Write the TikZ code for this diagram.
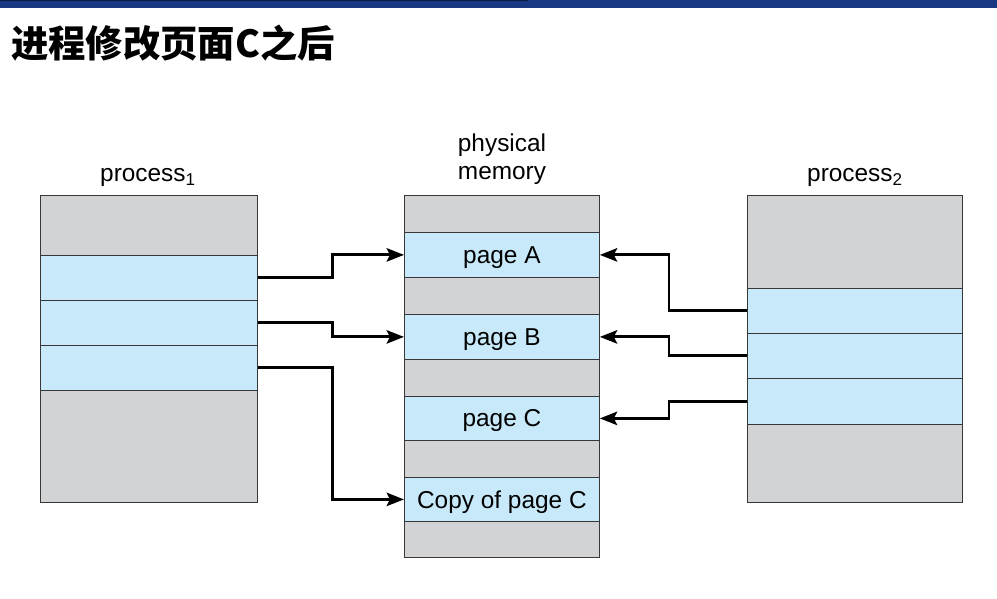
\documentclass[tikz,border=0pt]{standalone}
\usepackage{fontspec}
\setmainfont{Liberation Sans}
\newfontfamily\cjk{Noto Sans CJK SC}
\usetikzlibrary{arrows.meta}

\definecolor{segGray}{RGB}{209,211,212}
\definecolor{segBlue}{RGB}{199,233,249}
\definecolor{segLine}{RGB}{55,55,55}
\definecolor{barBlue}{RGB}{24,56,130}
\definecolor{barDark}{RGB}{14,26,70}

\tikzset{
  seg/.style={draw=segLine, line width=0.6pt, inner sep=0pt, anchor=north west,
    text depth=0pt, font=\fontsize{18.3}{22}\selectfont},
  used/.style={seg, fill=segBlue},
  free/.style={seg, fill=segGray},
  link/.style={line width=2.2pt, line join=miter, -{Stealth[length=13pt,width=10pt,inset=2.5pt]}},
  heading/.style={font=\fontsize{18.3}{20.5}\selectfont, align=center}
}

\begin{document}
\begin{tikzpicture}[x=0.75pt,y=0.75pt,yscale=-1]
\useasboundingbox (0,0) rectangle (997,599);

% top bar
\fill [barBlue] (0,0) rectangle (997,8);
\fill [barDark] (0,0) rectangle (528,1.5);

% title
\node (title) [anchor=west, inner sep=0pt, font=\cjk\bfseries\fontsize{28}{32}\selectfont] at (11,43) {进程修改页面C之后};

% process 1
\node (p1top) [free, minimum width=162.75pt, minimum height=45pt] at (40,195) {};
\node (p1a) [used, minimum width=162.75pt, minimum height=33.75pt] at (40,255) {};
\node (p1b) [used, minimum width=162.75pt, minimum height=33.75pt] at (40,300) {};
\node (p1c) [used, minimum width=162.75pt, minimum height=33.75pt] at (40,345) {};
\node (p1bot) [free, minimum width=162.75pt, minimum height=84pt] at (40,390) {};
\node (p1lbl) [heading, anchor=south] at (148,191) {process\textsubscript{1}};

% physical memory
\node (m0) [free, minimum width=146.25pt, minimum height=27.75pt] at (404,195) {};
\node (pA) [used, minimum width=146.25pt, minimum height=33.75pt] at (404,232) {page A};
\node (m1) [free, minimum width=146.25pt, minimum height=27.75pt] at (404,277) {};
\node (pB) [used, minimum width=146.25pt, minimum height=33.75pt] at (404,314) {page B};
\node (m2) [free, minimum width=146.25pt, minimum height=27.75pt] at (404,359) {};
\node (pC) [used, minimum width=146.25pt, minimum height=33pt] at (404,396) {page C};
\node (m3) [free, minimum width=146.25pt, minimum height=27.75pt] at (404,440) {};
\node (pCc) [used, minimum width=146.25pt, minimum height=33pt] at (404,477) {Copy of page C};
\node (m4) [free, minimum width=146.25pt, minimum height=27pt] at (404,521) {};
\node (mlbl) [heading, anchor=south] at (502,189) {physical\\memory};

% process 2
\node (p2top) [free, minimum width=161.25pt, minimum height=69.75pt] at (747,195) {};
\node (p2a) [used, minimum width=161.25pt, minimum height=33.75pt] at (747,288) {};
\node (p2b) [used, minimum width=161.25pt, minimum height=33.75pt] at (747,333) {};
\node (p2c) [used, minimum width=161.25pt, minimum height=34.5pt] at (747,378) {};
\node (p2bot) [free, minimum width=161.25pt, minimum height=58.5pt] at (747,424) {};
\node (p2lbl) [heading, anchor=south] at (855,191) {process\textsubscript{2}};

% mappings of process 1
\draw [link] (p1a.east) -- ++(75,0) |- (pA.west);
\draw [link] (p1b.east) -- ++(75,0) |- (pB.west);
\draw [link] (p1c.east) -- ++(75,0) |- (pCc.west);

% mappings of process 2
\draw [link] (p2a.west) -- ++(-78,0) |- (pA.east);
\draw [link] (p2b.west) -- ++(-78,0) |- (pB.east);
\draw [link] (p2c.west) -- ++(-78,0) |- (pC.east);

\end{tikzpicture}
\end{document}
